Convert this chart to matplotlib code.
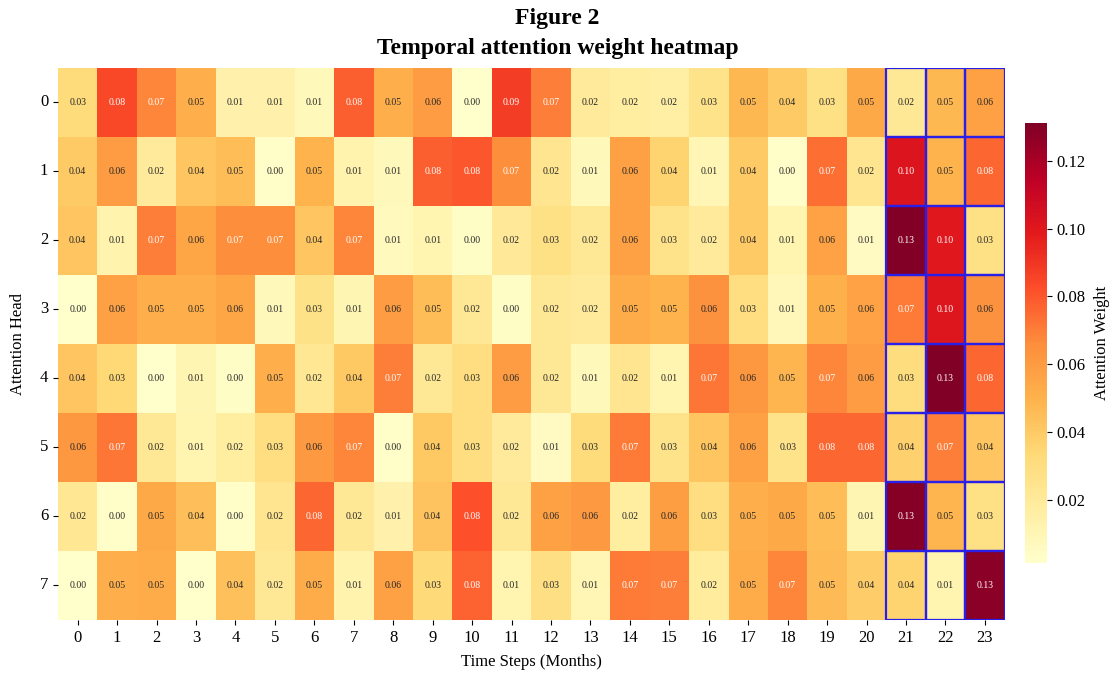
import numpy as np
import matplotlib
matplotlib.use("Agg")
import matplotlib.pyplot as plt
import seaborn as sns
from matplotlib.patches import Rectangle

plt.rcParams["font.family"] = ["Liberation Serif", "DejaVu Serif"]

# attention weights, rows = heads 0..7, cols = months 0..23
head_0 = [0.032, 0.084, 0.068, 0.052, 0.014, 0.014, 0.008, 0.078, 0.052, 0.060, 0.002, 0.088,
          0.070, 0.020, 0.018, 0.016, 0.026, 0.048, 0.040, 0.028, 0.054, 0.022, 0.048, 0.058]
head_1 = [0.040, 0.060, 0.020, 0.042, 0.046, 0.003, 0.050, 0.013, 0.008, 0.078, 0.080, 0.066,
          0.024, 0.008, 0.058, 0.036, 0.010, 0.040, 0.003, 0.074, 0.024, 0.102, 0.050, 0.076]
head_2 = [0.042, 0.013, 0.070, 0.056, 0.066, 0.066, 0.042, 0.068, 0.007, 0.012, 0.004, 0.021,
          0.028, 0.022, 0.058, 0.026, 0.020, 0.040, 0.012, 0.057, 0.006, 0.130, 0.100, 0.028]
head_3 = [0.002, 0.058, 0.052, 0.052, 0.056, 0.008, 0.027, 0.011, 0.060, 0.046, 0.022, 0.004,
          0.022, 0.020, 0.053, 0.050, 0.064, 0.030, 0.009, 0.051, 0.057, 0.071, 0.101, 0.064]
head_4 = [0.042, 0.034, 0.002, 0.011, 0.004, 0.052, 0.023, 0.041, 0.070, 0.022, 0.030, 0.060,
          0.022, 0.008, 0.024, 0.012, 0.072, 0.062, 0.049, 0.068, 0.060, 0.031, 0.131, 0.076]
head_5 = [0.062, 0.072, 0.022, 0.012, 0.018, 0.030, 0.061, 0.068, 0.003, 0.041, 0.030, 0.020,
          0.006, 0.032, 0.071, 0.026, 0.042, 0.058, 0.026, 0.076, 0.076, 0.037, 0.070, 0.042]
head_6 = [0.023, 0.003, 0.054, 0.045, 0.003, 0.024, 0.076, 0.022, 0.014, 0.043, 0.082, 0.022,
          0.058, 0.061, 0.018, 0.059, 0.030, 0.052, 0.054, 0.046, 0.011, 0.129, 0.049, 0.028]
head_7 = [0.0015, 0.052, 0.053, 0.002, 0.044, 0.022, 0.053, 0.013, 0.058, 0.033, 0.077, 0.012,
          0.029, 0.010, 0.071, 0.070, 0.019, 0.053, 0.068, 0.047, 0.039, 0.036, 0.012, 0.128]

months = list(range(24))
heads = list(range(8))
highlight_months = [21, 22, 23]

weights = np.array([head_0, head_1, head_2, head_3, head_4, head_5, head_6, head_7])

fig = plt.figure(figsize=(11.15, 6.73), dpi=100)
ax = fig.add_axes([0.052, 0.079, 0.849, 0.820])
cax = fig.add_axes([0.919, 0.163, 0.0197, 0.654])

sns.heatmap(weights, ax=ax, cbar_ax=cax, cmap="YlOrRd", annot=True, fmt=".2f",
            annot_kws={"fontsize": 7}, xticklabels=months, yticklabels=heads,
            cbar_kws={"label": "Attention Weight"})

# outline the last three months
for j in highlight_months:
    for i in heads:
        ax.add_patch(Rectangle((j, i), 1, 1, fill=False, edgecolor="#2a1fe8", lw=1.6))

ax.set_xlabel("Time Steps (Months)", fontsize=12, labelpad=6)
ax.set_ylabel("Attention Head", fontsize=12, labelpad=10)
ax.tick_params(axis="both", labelsize=12)
plt.setp(ax.get_yticklabels(), rotation=0)
plt.setp(ax.get_xticklabels(), rotation=0)
cax.tick_params(labelsize=12)
cax.yaxis.label.set_size(12)
cax.yaxis.labelpad = 6

fig.text(0.5, 0.972, "Figure 2", ha="center", va="center", fontsize=17, fontweight="bold")
fig.text(0.5, 0.928, "Temporal attention weight heatmap", ha="center", va="center",
         fontsize=17, fontweight="bold")

fig.savefig("out.png", dpi=100)
